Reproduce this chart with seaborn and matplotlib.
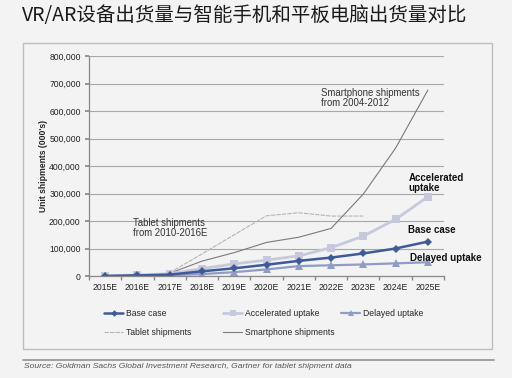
import numpy as np
import pandas as pd
import matplotlib
matplotlib.use("Agg")
import matplotlib.pyplot as plt
import seaborn as sns
from matplotlib.patches import Rectangle
from matplotlib.lines import Line2D

# data (000's of units)
years = ["2015E", "2016E", "2017E", "2018E", "2019E", "2020E",
         "2021E", "2022E", "2023E", "2024E", "2025E"]
base_case = [0, 2000, 5000, 17000, 28000, 41000, 55000, 67000, 82000, 100000, 125000]
accelerated = [0, 4000, 8000, 27000, 44000, 58000, 73000, 103000, 145000, 206000, 288000]
delayed = [0, 1500, 3000, 7000, 14000, 24000, 36000, 39000, 42000, 46000, 50000]
tablet = [12000, 80000, 150000, 219000, 230000, 218000, 218000]          # 2017E-2023E
smartphone = [10000, 54000, 85000, 122000, 141000, 173000, 298000, 465000, 676000]  # 2017E-2025E

bg = "#f3f3f3"
sns.set_theme(style="white")
plt.rcParams['font.family'] = ['Liberation Sans', 'DejaVu Sans']

fig = plt.figure(figsize=(5.12, 3.78), dpi=100, facecolor=bg)
W, H = 512, 378

# outer box and source rule
fig.patches.append(Rectangle((23 / W, 1 - 349 / H), 469 / W, 306 / H, transform=fig.transFigure,
                             facecolor=bg, edgecolor="#bdbdbd", lw=1.0, zorder=-5))
fig.lines.append(Line2D([23 / W, 494 / W], [1 - 360 / H] * 2, transform=fig.transFigure,
                        color="#9a9a9a", lw=1.3, zorder=-5))

ax = fig.add_axes([89 / W, 1 - 276 / H, 355 / W, 220 / H])
ax.set_facecolor("none")

x_all = np.arange(len(years))
sns.lineplot(x=x_all[2:9], y=tablet, ax=ax, color="#b4b4b4", lw=0.8,
             linestyle=(0, (4, 1)), label="Tablet shipments")
sns.lineplot(x=x_all[2:], y=smartphone, ax=ax, color="#7a7a7a", lw=0.8,
             label="Smartphone shipments")
sns.lineplot(x=x_all, y=accelerated, ax=ax, color="#c6c9dc", lw=2.0, marker="s",
             markersize=5.5, markeredgewidth=0, label="Accelerated uptake")
sns.lineplot(x=x_all, y=delayed, ax=ax, color="#8e9cc6", lw=1.6, marker="^",
             markersize=5.5, markeredgewidth=0, label="Delayed uptake")
sns.lineplot(x=x_all, y=base_case, ax=ax, color="#3e5a98", lw=1.8, marker="D",
             markersize=4.2, markeredgewidth=0, label="Base case")
ax.get_legend().remove()

ax.set_xlim(-0.5, 10.5)
ax.set_ylim(0, 800000)
ax.set_yticks(np.arange(0, 800001, 100000))
ax.set_yticklabels([f"{v:,}" for v in range(0, 800001, 100000)], fontsize=6.2, color="#222222")
ax.set_xticks(x_all)
ax.set_xticklabels(years, fontsize=6.2, color="#222222")
ax.set_xticks(np.arange(-0.5, 11, 1), minor=True)
ax.tick_params(axis="x", which="major", length=0, pad=5)
ax.tick_params(axis="x", which="minor", length=3, color="#888888", direction="out", bottom=True)
ax.tick_params(axis="y", length=3, color="#888888", direction="out", pad=3, left=True)
ax.yaxis.grid(True, color="#a8a8a8", lw=0.8)
ax.set_axisbelow(True)
for s in ["top", "right"]:
    ax.spines[s].set_visible(False)
for s in ["left", "bottom"]:
    ax.spines[s].set_color("#8a8a8a")
    ax.spines[s].set_linewidth(0.9)
ax.set_xlabel("")
ax.set_ylabel("Unit shipments (000's)", fontsize=6.2, fontweight="bold", labelpad=0.5)

# annotations
ax.text(6.7, 685000, "Smartphone shipments\nfrom 2004-2012", fontsize=6.9, color="#333333",
        va="top", linespacing=1.1)
ax.text(0.85, 212000, "Tablet shipments\nfrom 2010-2016E", fontsize=6.9, color="#333333",
        va="top", linespacing=1.1)
ax.text(9.4, 376000, "Accelerated\nuptake", fontsize=7, fontweight="bold", color="#111111",
        va="top", linespacing=1.05)
ax.text(9.4, 184000, "Base case", fontsize=7, fontweight="bold", color="#111111", va="top")
ax.text(9.45, 85000, "Delayed uptake", fontsize=7, fontweight="bold", color="#111111", va="top")

# legend in three columns
h = {l: hd for hd, l in zip(*ax.get_legend_handles_labels())}
cols = [(["Base case", "Tablet shipments"], 100),
        (["Accelerated uptake", "Smartphone shipments"], 219),
        (["Delayed uptake"], 337)]
for labels, xpx in cols:
    fig.legend([h[l] for l in labels], labels, loc="upper left",
               bbox_to_anchor=(xpx / W, 1 - 305 / H), frameon=False, fontsize=6.2,
               handlelength=2.2, handletextpad=0.3, labelspacing=1.15, borderpad=0,
               markerscale=0.8)

fig.text(24 / W, 1 - 367 / H, "Source: Goldman Sachs Global Investment Research, Gartner for tablet shipment data",
         fontsize=6.1, style="italic", color="#555555", va="center")
fig.text(22 / W, 1 - 15 / H, "VR/AR设备出货量与智能手机和平板电脑出货量对比",
         fontsize=14, color="#1a1a1a", va="center", fontweight="medium",
         family=["Noto Sans CJK SC", "DejaVu Sans"])

fig.savefig("out.png", dpi=100, facecolor=bg)
